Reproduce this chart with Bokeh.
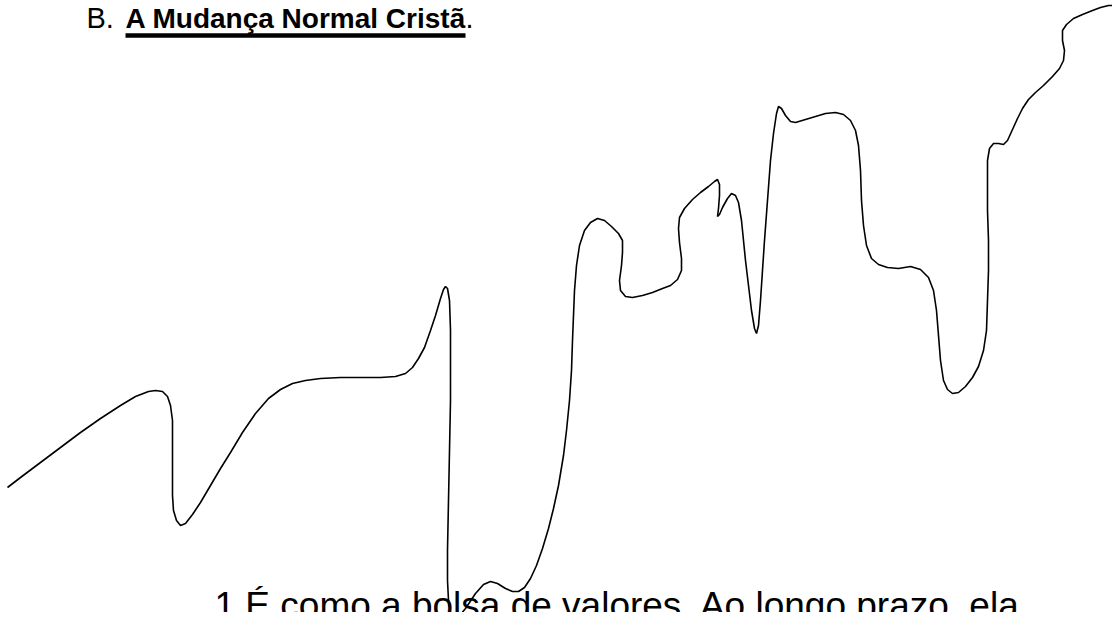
from bokeh.plotting import figure
from bokeh.models import Label, Range1d
from bokeh.embed import file_html
from bokeh.resources import INLINE

# ---- data: the hand-drawn "market" line, traced (x in px, level = height above bottom) ----
curve_x = [7, 20, 40, 60, 80, 100, 120, 135, 148, 155, 162, 167, 170, 172, 172, 172, 172, 173, 176, 180,
           185, 192, 200, 210, 220, 230, 242, 255, 268, 280, 292, 305, 320, 340, 360, 380, 395, 405, 412, 418,
           424, 430, 435, 440, 443, 445, 447, 449, 450, 450, 449, 448, 447, 447, 448, 450, 452, 455, 465, 475,
           483, 490, 497, 505, 512, 518, 524, 530, 536, 542, 548, 553, 558, 563, 566, 569, 571, 572, 573, 574,
           576, 579, 584, 590, 597, 604, 611, 618, 622, 622, 621, 619, 620, 625, 632, 642, 652, 662, 670, 677,
           681, 681, 679, 678, 679, 684, 692, 700, 708, 714, 717, 719, 719, 718, 717, 719, 722, 727, 731, 735,
           738, 741, 743, 745, 748, 751, 754, 756, 758, 760, 762, 764, 767, 770, 773, 776, 778, 781, 785, 790,
           795, 805, 815, 825, 835, 843, 850, 855, 858, 860, 861, 863, 866, 871, 878, 887, 898, 910, 920, 928,
           933, 936, 938, 940, 943, 947, 952, 958, 965, 972, 978, 983, 986, 987, 988, 988, 987, 987, 987, 989,
           993, 998, 1003, 1007, 1012, 1017, 1022, 1028, 1035, 1043, 1052, 1059, 1063, 1064, 1062, 1062, 1066,
           1073, 1082, 1092, 1100, 1108, 1115, 1120]
curve_y_px = [487, 477, 462, 447, 432, 418, 405, 396, 391, 390, 391, 396, 405, 420, 440, 470, 495, 510, 520, 525,
              523, 514, 502, 485, 468, 452, 432, 413, 398, 389, 383, 380, 378, 377, 377, 377, 376, 373, 367, 358,
              347, 330, 315, 298, 289, 286, 288, 300, 330, 400, 450, 500, 550, 580, 600, 612, 618, 620, 608, 593,
              584, 581, 583, 588, 591, 591, 587, 578, 565, 548, 528, 508, 485, 455, 430, 400, 370, 340, 315, 290,
              265, 245, 230, 222, 218, 220, 226, 233, 240, 252, 265, 280, 290, 296, 297, 295, 292, 288, 285, 279,
              270, 258, 242, 228, 217, 208, 199, 192, 186, 181, 179, 184, 195, 208, 216, 214, 207, 198, 193, 195,
              202, 220, 240, 260, 285, 310, 328, 333, 325, 300, 270, 240, 200, 160, 133, 113, 106, 108, 115, 121,
              122, 119, 116, 113, 112, 114, 120, 130, 145, 170, 200, 225, 245, 258, 264, 267, 268, 266, 269, 277,
              290, 310, 335, 360, 380, 389, 393, 392, 386, 377, 366, 350, 330, 300, 270, 240, 210, 180, 160, 148,
              143, 143, 144, 140, 129, 118, 108, 99, 92, 85, 76, 68, 60, 50, 40, 30, 24,
              18, 14, 10, 7, 5, 5, 7]
curve_level = [620 - v for v in curve_y_px]

heading_prefix = "B."
heading_main = "A Mudança Normal Cristã"
heading_suffix = "."
footer_text = "1 É como a bolsa de valores.  Ao longo prazo, ela"

# one screen pixel per unit; page margin leaves 1112 x 612 for the figure
W, H = 1112, 612
p = figure(width=W, height=H, output_backend="svg", toolbar_location=None,
           x_range=Range1d(0, W), y_range=Range1d(620 - H, 620),
           min_border=0, outline_line_color=None)
p.axis.visible = False
p.grid.visible = False
p.background_fill_color = "white"
p.border_fill_color = "white"

p.line(curve_x, curve_level, line_color="black", line_width=1.6)

FONT = "Liberation Sans"
# label anchor sits ~0.43 em above the glyph baseline in this renderer
def lbl(x, baseline_y, text, size, style="normal"):
    return Label(x=x, y=620 - baseline_y + 0.43 * size, text=text, text_font=FONT,
                 text_font_size="%dpx" % size, text_font_style=style,
                 text_baseline="alphabetic", text_color="black")

p.add_layout(lbl(86, 30, heading_prefix, 29))
p.add_layout(lbl(125, 30, heading_main, 28, "bold"))
p.add_layout(lbl(465, 30, heading_suffix, 29))
# underline of the bold heading
p.segment(x0=[125], y0=[620 - 35], x1=[465], y1=[620 - 35], line_color="black", line_width=4.4)

p.add_layout(lbl(214, 621, footer_text, 37))

open("out.html", "w").write(file_html(p, INLINE))
